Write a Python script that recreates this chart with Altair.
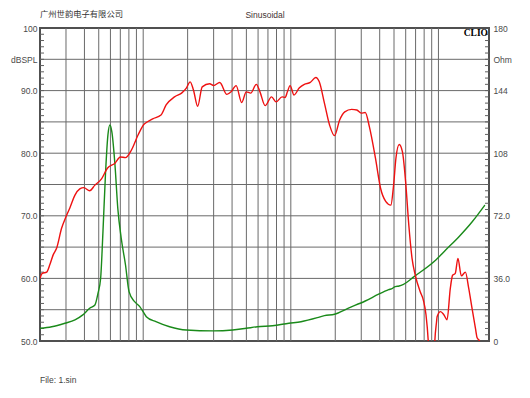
import altair as alt
import pandas as pd

# ---------------- data ----------------
spl_freq = [20, 20.7, 22.2, 23.4, 24.6, 25.9, 28.0, 30.3, 31.9, 34.5, 37.2, 39.6, 43.4, 47.1,
            52.2, 57.2, 64.4, 70.1, 75.9, 83.2, 92.3, 101, 105, 116, 132, 143, 163, 182, 196,
            208, 219, 234, 251, 282, 300, 330, 369, 394, 426, 465, 499, 535, 584, 618, 670,
            740, 795, 872, 915, 948, 989, 1051, 1139, 1235, 1354, 1477, 1559, 1689, 1830,
            1977, 2142, 2320, 2582, 2800, 2997, 3193, 3407, 3744, 4054, 4392, 4758, 4968,
            5152, 5423, 5704, 5994, 6300, 6625, 6966, 7515, 7908, 8235, 8530, 8700, 9300,
            9450, 9700, 9800, 10330, 10880, 11440, 12030, 12470, 13000, 13550, 14290, 15220,
            16040, 16890, 17810, 18280, 18970, 19100]
spl_db = [60.0, 60.8, 61.0, 62.3, 63.8, 64.8, 68.0, 70.1, 71.3, 73.3, 74.3, 74.5, 74.0, 74.9,
          75.9, 77.6, 78.4, 79.4, 79.3, 80.5, 82.9, 84.6, 84.9, 85.5, 86.1, 87.7, 89.0, 89.6, 90.4,
          91.4, 90.1, 87.5, 90.6, 91.1, 90.8, 91.3, 89.4, 89.8, 90.8, 88.1, 89.8, 89.6, 91.0, 89.8, 87.6,
          89.0, 88.2, 89.0, 88.9, 89.8, 90.8, 89.3, 90.4, 91.0, 91.3, 92.1, 91.4, 88.0, 84.5,
          82.8, 85.3, 86.6, 87.0, 86.9, 86.4, 86.5, 84.2, 79.2, 74.4, 72.3, 71.7, 74.9,
          79.2, 81.4, 80.2, 75.4, 68.5, 63.2, 60.5, 57.9, 56.5, 54.2, 50.0, 46.0, 46.0,
          50.0, 53.0, 53.9, 54.7, 54.2, 53.4, 58.4, 60.5, 60.8, 63.2, 60.4, 61.0,
          58.4, 55.2, 52.0, 50.5, 50.0, 49.0]

imp_freq = [20, 24, 29.5, 34.5, 39, 43.4, 47.1, 49.4, 51.5, 53.4, 55.5, 57.7, 59.5, 61.3, 64.4,
            67.3, 71.0, 75.9, 80.2, 87.5, 94.8, 101.3, 105, 122, 151, 196, 297, 404, 499, 594,
            752, 970, 1172, 1512, 1689, 1977, 2436, 3193, 3934, 4600, 4880, 5100, 5413, 5800,
            6838, 9600, 11190, 13770, 16930, 20630]
imp_ohm = [7.3, 8.2, 10.2, 12.1, 15.0, 18.8, 20.7, 27.4, 36.1, 62.9, 95.5, 118.5, 124.2, 120.4, 101.2,
           76.3, 59.1, 43.7, 28.4, 22.6, 19.8, 16.0, 14.0, 11.1, 8.2, 6.3, 5.8, 6.3, 7.3, 8.2,
           8.8, 10.2, 11.1, 13.4, 14.6, 15.4, 18.8, 23.0, 26.9, 29.5, 30.3, 31.3, 31.6, 32.6,
           37.0, 46.6, 52.3, 60.0, 68.6, 78.2]

grid_freqs = [30, 40, 50, 60, 70, 80, 90, 100, 200, 300, 400, 500, 600, 700, 800, 900,
              1000, 2000, 3000, 4000, 5000, 6000, 7000, 8000, 9000, 10000]
grid_db = [55, 60, 65, 70, 75, 80, 85, 90, 95]
minor_db = list(range(51, 100))

x_tick_vals = [20, 50, 100, 200, 500, 1000, 2000, 3000, 5000, 10000, 20000]
x_tick_labels = ["20.0", "50.0", "100", "200", "500", "1k", "2k", "Hz", "5k", "10k", "20k"]
left_tick_vals = [50, 60, 70, 80, 90, 95, 100]
left_tick_labels = ["50.0", "60.0", "70.0", "80.0", "90.0", "dBSPL", "100"]
right_tick_vals = [0, 36, 72, 108, 144, 162, 180]
right_tick_labels = ["0", "36.0", "72.0", "108", "144", "Ohm", "180"]

company = "广州世韵电子有限公司"
subtitle = "Sinusoidal"
brand = "CLIO"
file_label = "File: 1.sin"

# ---------------- layout ----------------
W, H = 449, 313
FONT = "Liberation Sans"
LBL = "#4a4a4a"
GRID = "#6a6a6a"


def label_expr(vals, labels):
    expr = "''"
    for v, l in reversed(list(zip(vals, labels))):
        expr = f"abs(datum.value - {v}) < {max(abs(v), 1) * 0.001} ? '{l}' : ({expr})"
    return expr


xscale = alt.Scale(type="log", domain=[20, 22000], nice=False)
yscale = alt.Scale(domain=[50, 100], nice=False, zero=False)
oscale = alt.Scale(domain=[0, 180], nice=False, zero=True)

spl_df = pd.DataFrame({"f": spl_freq, "db": spl_db})
imp_df = pd.DataFrame({"f": imp_freq, "ohm": imp_ohm})
vgrid_df = pd.DataFrame({"f": grid_freqs})
hgrid_df = pd.DataFrame({"db": grid_db})
minor_df = pd.DataFrame({"db": minor_db})

vgrid = alt.Chart(vgrid_df).mark_rule(color=GRID, strokeWidth=1).encode(
    x=alt.X("f:Q", scale=xscale, axis=None)
)
hgrid = alt.Chart(hgrid_df).mark_rule(color=GRID, strokeWidth=1).encode(
    y=alt.Y("db:Q", scale=yscale, axis=None)
)
minor_l = alt.Chart(minor_df).mark_rule(color="#606060", strokeWidth=1).encode(
    y=alt.Y("db:Q", scale=yscale, axis=None), x=alt.value(0), x2=alt.value(4)
)
minor_r = alt.Chart(minor_df).mark_rule(color="#606060", strokeWidth=1).encode(
    y=alt.Y("db:Q", scale=yscale, axis=None), x=alt.value(W - 4), x2=alt.value(W)
)

spl = alt.Chart(spl_df).mark_line(color="#ee1111", strokeWidth=1.4, clip=True, interpolate="monotone").encode(
    x=alt.X("f:Q", scale=xscale, axis=alt.Axis(
        orient="bottom", values=x_tick_vals, labelExpr=label_expr(x_tick_vals, x_tick_labels),
        grid=False, ticks=False, domain=False, labelFlush=False, labelOverlap=False, labelBound=False,
        labelPadding=5, labelFontSize=8.5, labelFont=FONT, labelColor=LBL, title=None)),
    y=alt.Y("db:Q", scale=yscale, axis=alt.Axis(
        orient="left", values=left_tick_vals, labelExpr=label_expr(left_tick_vals, left_tick_labels),
        grid=False, ticks=False, domain=False, labelOverlap=False, labelFlush=False,
        labelPadding=3, labelFontSize=8.5, labelFont=FONT, labelColor=LBL, title=None)),
    order="f:Q",
)

imp = alt.Chart(imp_df).mark_line(color="#1a8a1a", strokeWidth=1.4, clip=True, interpolate="monotone").encode(
    x=alt.X("f:Q", scale=xscale, axis=None),
    y=alt.Y("ohm:Q", scale=oscale, axis=alt.Axis(
        orient="right", values=right_tick_vals, labelExpr=label_expr(right_tick_vals, right_tick_labels),
        grid=False, ticks=False, domain=False, labelOverlap=False, labelFlush=False,
        labelPadding=4, labelFontSize=8.5, labelFont=FONT, labelColor=LBL, title=None)),
    order="f:Q",
)


def txt(s, x, y, align="left", size=8.5, font=FONT, weight="normal", color=LBL):
    return alt.Chart(pd.DataFrame({"t": [s]})).mark_text(
        align=align, baseline="middle", fontSize=size, font=font, fontWeight=weight, color=color
    ).encode(text="t:N", x=alt.value(x), y=alt.value(y))


t_company = txt(company, 0, -13, size=8.3, font="Noto Sans CJK SC", color="#333333")
t_sub = txt(subtitle, 225, -13, align="center", size=8.5, color="#443333")
t_brand = txt(brand, 448, 5, align="right", size=9.5, font="Liberation Serif", weight="bold", color="#000000")
t_file = txt(file_label, 0, 352, size=8.5, color="#444444")

chart = alt.layer(
    vgrid, hgrid, minor_l, minor_r, imp, spl, t_company, t_sub, t_brand, t_file
).resolve_scale(y="independent").properties(
    width=W, height=H,
    padding={"left": 32, "top": 20, "right": 33, "bottom": 45},
    autosize=alt.AutoSizeParams(type="none"),
    background="white",
).configure_view(stroke="#505050", strokeWidth=2)

chart.save("out.html", embed_options={"renderer": "svg", "actions": False})
